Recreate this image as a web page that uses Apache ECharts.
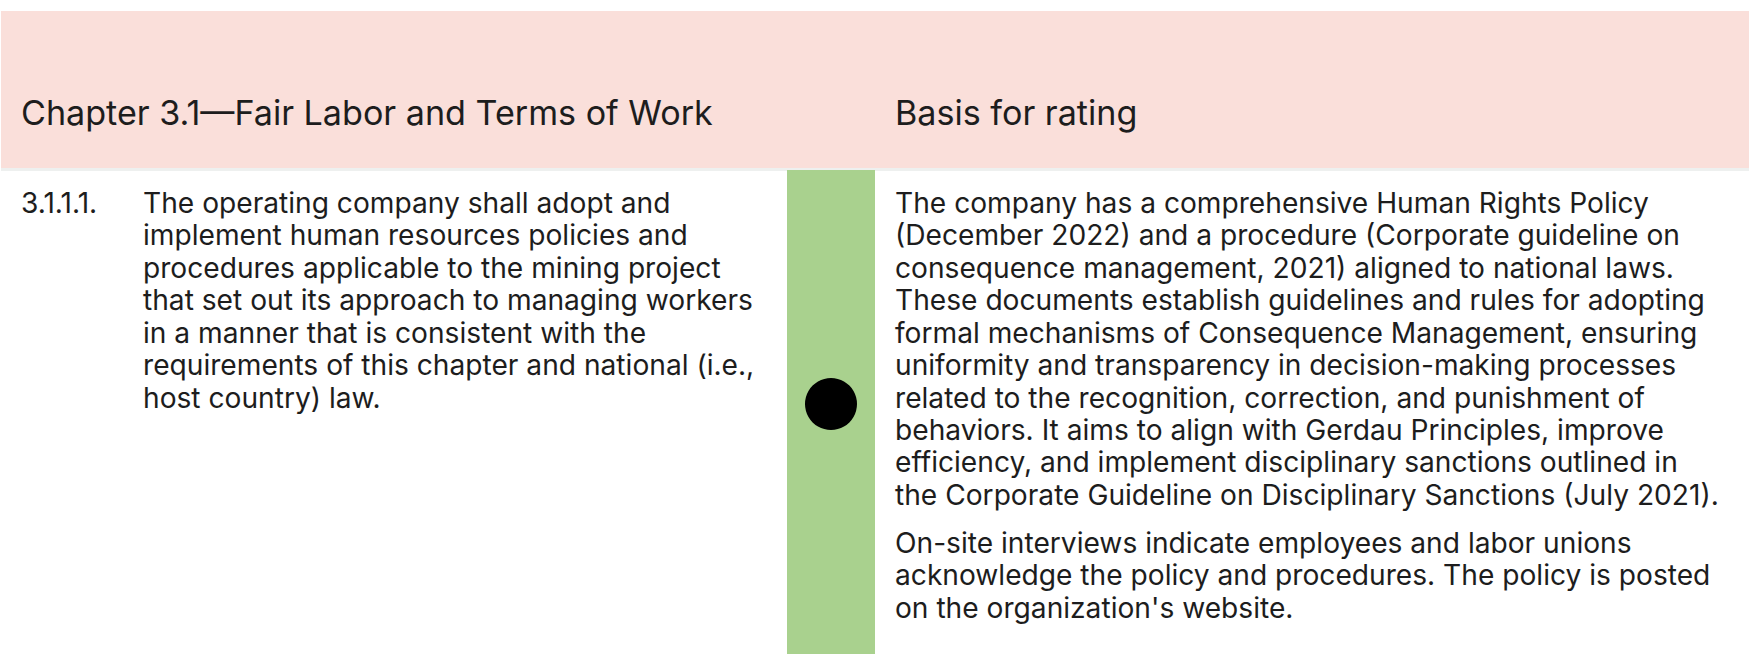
<!DOCTYPE html>
<html>
<head>
<meta charset="utf-8">
<script src="https://cdn.jsdelivr.net/npm/echarts@6/dist/echarts.min.js"></script>
<style>
  html, body { margin: 0; padding: 0; background: #ffffff; }
  #chart { width: 1749px; height: 654px; }
</style>
</head>
<body>
<div id="chart"></div>
<script>
// ---------------- DATA ----------------
const headerLabels = ['Chapter 3.1\u2014Fair Labor and Terms of Work', 'Basis for rating'];
const requirementIds = ['3.1.1.1.'];
const requirementLines = [
  'The operating company shall adopt and',
  'implement human resources policies and',
  'procedures applicable to the mining project',
  'that set out its approach to managing workers',
  'in a manner that is consistent with the',
  'requirements of this chapter and national (i.e.,',
  'host country) law.'
];
const basisParagraph1 = [
  'The company has a comprehensive Human Rights Policy',
  '(December 2022) and a procedure (Corporate guideline on',
  'consequence management, 2021) aligned to national laws.',
  'These documents establish guidelines and rules for adopting',
  'formal mechanisms of Consequence Management, ensuring',
  'uniformity and transparency in decision-making processes',
  'related to the recognition, correction, and punishment of',
  'behaviors. It aims to align with Gerdau Principles, improve',
  'efficiency, and implement disciplinary sanctions outlined in',
  'the Corporate Guideline on Disciplinary Sanctions (July 2021).'
];
const basisParagraph2 = [
  'On-site interviews indicate employees and labor unions',
  'acknowledge the policy and procedures. The policy is posted',
  "on the organization's website."
];
const ratingLevels = ['fully meets'];

// ---------------- LAYOUT / STYLE ----------------
const W = 1749, H = 654;
const FONT = 'Inter';
const TEXT_COLOR = '#1d1d1d';
const PINK = '#fadfda';
const GREEN = '#a9d18e';
const SEP = '#eef0ef';
const L = {
  headerTop: 11, headerBottom: 168, sepBottom: 171,
  ratingLeft: 787, ratingRight: 875,
  xId: 21, xReq: 143, xBasis: 895,
  headerBaseline: 125,
  firstBaseline: 213, lineStep: 32.45, paraGap: 15.6,
  dotY: 404, dotR: 26
};

const ctx = document.createElement('canvas').getContext('2d');
function fitSize(text, target) {
  ctx.font = '400 100px "' + FONT + '"';
  return 100 * target / ctx.measureText(text).width;
}
const headerSize = fitSize(headerLabels[0], 692);
const bodySize = (fitSize(basisParagraph1[9], 809) + fitSize(requirementLines[3], 621)) / 2;

function baselineToMiddle(baseline, size) { return baseline - 0.36 * size; }

const chart = echarts.init(document.getElementById('chart'), null, { renderer: 'svg' });

function textEl(api, x, baseline, str, size) {
  const p = api.coord([x, baselineToMiddle(baseline, size)]);
  return {
    type: 'text',
    style: {
      x: p[0], y: p[1], text: str, fill: TEXT_COLOR,
      font: '400 ' + size.toFixed(2) + 'px "' + FONT + '", sans-serif',
      verticalAlign: 'middle', align: 'left'
    }
  };
}
function rectEl(api, x0, y0, x1, y1, fill) {
  const a = api.coord([x0, y0]), b = api.coord([x1, y1]);
  return { type: 'rect', shape: { x: a[0], y: a[1], width: b[0] - a[0], height: b[1] - a[1] }, style: { fill: fill } };
}

function renderTable(params, api) {
  const children = [];
  // header band
  children.push(rectEl(api, 1, L.headerTop, W, L.headerBottom, PINK));
  children.push(rectEl(api, 1, L.headerBottom, W, L.sepBottom, SEP));
  children.push(textEl(api, L.xId, L.headerBaseline, headerLabels[0], headerSize));
  children.push(textEl(api, L.xBasis, L.headerBaseline, headerLabels[1], headerSize));
  // rating column
  if (ratingLevels[0] === 'fully meets') {
    children.push(rectEl(api, L.ratingLeft, L.sepBottom - 1, L.ratingRight, H, GREEN));
  }
  // requirement
  children.push(textEl(api, L.xId, L.firstBaseline, requirementIds[0], bodySize));
  requirementLines.forEach(function (s, i) {
    children.push(textEl(api, L.xReq, L.firstBaseline + i * L.lineStep, s, bodySize));
  });
  // basis
  basisParagraph1.forEach(function (s, i) {
    children.push(textEl(api, L.xBasis, L.firstBaseline + i * L.lineStep, s, bodySize));
  });
  const p2Start = L.firstBaseline + basisParagraph1.length * L.lineStep + L.paraGap;
  basisParagraph2.forEach(function (s, i) {
    children.push(textEl(api, L.xBasis, p2Start + i * L.lineStep, s, bodySize));
  });
  return { type: 'group', children: children };
}

chart.setOption({
  animation: false,
  backgroundColor: '#ffffff',
  grid: { left: 0, right: 0, top: 0, bottom: 0 },
  xAxis: { type: 'value', min: 0, max: W, show: false },
  yAxis: { type: 'value', min: 0, max: H, inverse: true, show: false },
  series: [
    {
      type: 'custom', name: 'table', silent: true,
      data: [[0, 0]],
      renderItem: renderTable,
      z: 1
    },
    {
      type: 'scatter', name: 'rating', silent: true,
      symbol: 'circle', symbolSize: L.dotR * 2,
      itemStyle: { color: '#000000', opacity: 1 },
      data: ratingLevels.map(function () { return [(L.ratingLeft + L.ratingRight) / 2, L.dotY]; }),
      z: 5
    }
  ]
});
</script>
</body>
</html>
